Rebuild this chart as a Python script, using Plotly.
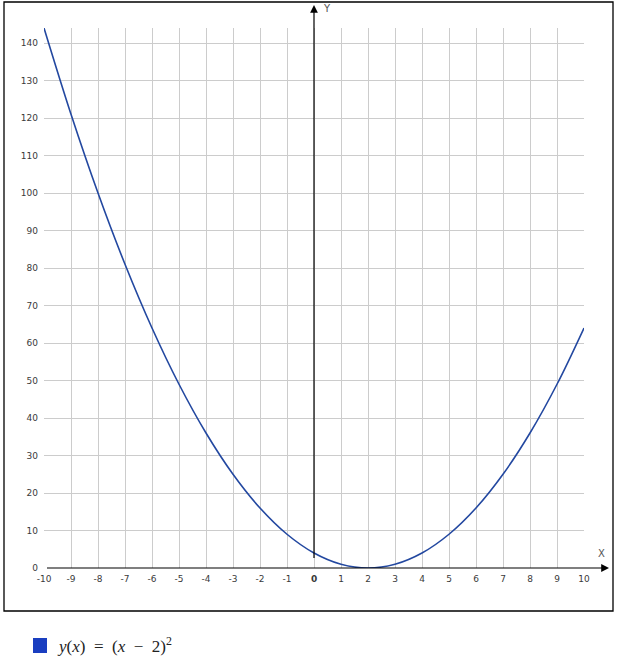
import plotly.graph_objects as go

# values
x_vals = [-10, -9, -8, -7, -6, -5, -4, -3, -2, -1, 0, 1, 2, 3, 4, 5, 6, 7, 8, 9, 10]
y_vals = [144, 121, 100, 81, 64, 49, 36, 25, 16, 9, 4, 1, 0, 1, 4, 9, 16, 25, 36, 49, 64]

x_ticks = list(range(-10, 11))
x_labels = ["<b>0</b>" if v == 0 else str(v) for v in x_ticks]
y_ticks = list(range(0, 141, 10))

line_col = "#2348a0"
grid_col = "#cccccc"

# plot area is 540 x 540 px, margins l=44 t=28
def px(p):
    return (p - 44) / 540.0

def py(p):
    return (568 - p) / 540.0

fig = go.Figure()
fig.add_trace(go.Scatter(x=x_vals, y=y_vals, mode="lines",
                         line=dict(color=line_col, width=1.6, shape="spline", smoothing=1),
                         hoverinfo="x+y", showlegend=False))

fig.update_xaxes(range=[-10, 10], tickvals=x_ticks, ticktext=x_labels,
                 showgrid=True, gridcolor=grid_col, gridwidth=1,
                 zeroline=False, showline=False, ticks="", ticklabelstandoff=4,
                 tickfont=dict(family="DejaVu Sans", size=9, color="#3a3a3a"))
fig.update_yaxes(range=[0, 144], tickvals=y_ticks,
                 showgrid=True, gridcolor=grid_col, gridwidth=1,
                 zeroline=False, showline=False, ticks="", ticklabelstandoff=5,
                 tickfont=dict(family="DejaVu Sans", size=9, color="#3a3a3a"))

# outer frame
fig.add_shape(type="rect", xref="paper", yref="paper",
              x0=px(4), x1=px(613), y0=py(611), y1=py(2),
              line=dict(color="#000000", width=1.3), layer="below")

# axes with arrows
fig.add_annotation(xref="paper", yref="y", x=px(609), y=0, ax=-(609 - 44), ay=0,
                   showarrow=True, arrowhead=2, arrowsize=1.3, arrowwidth=1.2,
                   arrowcolor="#000000", text=" ")
fig.add_annotation(xref="x", yref="paper", x=0, y=py(5), ax=0, ay=(568 - 5),
                   showarrow=True, arrowhead=2, arrowsize=1.3, arrowwidth=1.2,
                   arrowcolor="#000000", text=" ")
fig.add_annotation(xref="paper", yref="paper", x=px(601), y=py(553), text="X",
                   xanchor="center", yanchor="middle", showarrow=False,
                   font=dict(family="DejaVu Sans", size=10, color="#555555"))
fig.add_annotation(xref="paper", yref="paper", x=px(327), y=py(9), text="Y",
                   xanchor="center", yanchor="middle", showarrow=False,
                   font=dict(family="DejaVu Sans", size=10, color="#555555"))

# legend drawn by hand (square + formula)
fig.add_shape(type="rect", xref="paper", yref="paper",
              x0=px(33), x1=px(47), y0=py(653), y1=py(638),
              fillcolor="#1a3ec0", line=dict(width=0))
fig.add_annotation(xref="paper", yref="paper", x=px(55), y=py(645),
                   xanchor="left", yanchor="middle",
                   text="<i>y</i>(<i>x</i>)  =  (<i>x</i>  −  2)<sup>2</sup>",
                   showarrow=False, font=dict(family="Liberation Serif", size=17, color="#222222"))

fig.update_layout(width=619, height=660, margin=dict(l=44, r=35, t=28, b=92),
                  paper_bgcolor="white", plot_bgcolor="white")

# drop the page's default 8px body margin so the figure sits at 0,0
fig.write_html("out.html", config={"displayModeBar": False},
               post_script="document.body.style.margin='0px';")
